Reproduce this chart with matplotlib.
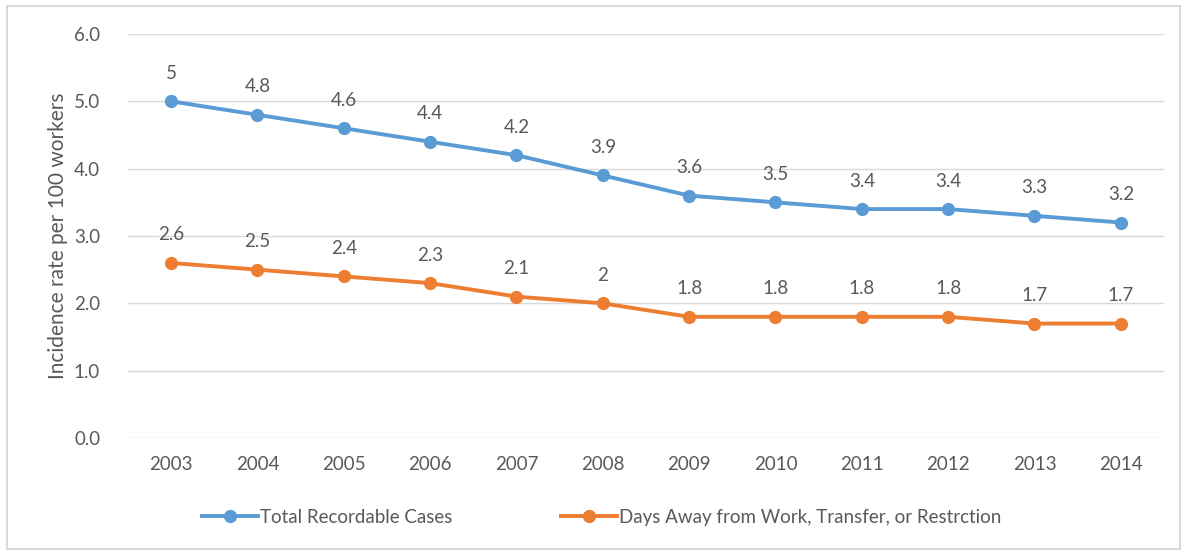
import matplotlib.pyplot as plt
from matplotlib.patches import Rectangle

plt.rcParams['font.family'] = ['Lato', 'DejaVu Sans']

years = ['2003', '2004', '2005', '2006', '2007', '2008',
         '2009', '2010', '2011', '2012', '2013', '2014']
total_cases = [5, 4.8, 4.6, 4.4, 4.2, 3.9, 3.6, 3.5, 3.4, 3.4, 3.3, 3.2]
days_away = [2.6, 2.5, 2.4, 2.3, 2.1, 2, 1.8, 1.8, 1.8, 1.8, 1.7, 1.7]
yticks = [0.0, 1.0, 2.0, 3.0, 4.0, 5.0, 6.0]

blue = '#5B9BD5'
orange = '#ED7D31'
text_col = '#595959'

fig = plt.figure(figsize=(11.87, 5.52), dpi=100)
ax = fig.add_axes([0.1078, 0.2065, 0.8728, 0.7319])

# 外框
fig.patches.append(Rectangle((0.006, 0.005), 0.988, 0.985, transform=fig.transFigure,
                             fill=False, edgecolor='#D9D9D9', linewidth=1.5))

x = list(range(len(years)))
series = [(total_cases, blue, 'Total Recordable Cases'),
          (days_away, orange, 'Days Away from Work, Transfer, or Restrction')]

for vals, col, lab in series:
    ax.plot(x, vals, color=col, linewidth=2.8, marker='o', markersize=8.5,
            label=lab, zorder=3)
    for xi, v in zip(x, vals):
        ax.annotate(f'{v:g}', (xi, v), xytext=(0, 14), textcoords='offset points',
                    ha='center', va='bottom', fontsize=13.5, color=text_col)

ax.set_xlim(-0.5, len(years) - 0.5)
ax.set_ylim(0, 6)
ax.set_yticks(yticks)
ax.set_yticklabels([f'{t:.1f}' for t in yticks])
ax.set_xticks(x)
ax.set_xticklabels(years)
ax.tick_params(axis='both', length=0, labelsize=13.5, labelcolor=text_col)
ax.tick_params(axis='x', pad=13)
ax.tick_params(axis='y', pad=20)
ax.grid(axis='y', color='#D9D9D9', linewidth=1)
ax.set_axisbelow(True)
for s in ax.spines.values():
    s.set_visible(False)
ax.set_ylabel('Incidence rate per 100 workers', fontsize=15, color=text_col, labelpad=4)

fig.legend(loc='center', bbox_to_anchor=(0.507, 0.063), ncol=2, frameon=False,
           fontsize=13.5, labelcolor=text_col, handlelength=3.0, handletextpad=0.1,
           columnspacing=5.8)

fig.savefig('out.png', dpi=100)
